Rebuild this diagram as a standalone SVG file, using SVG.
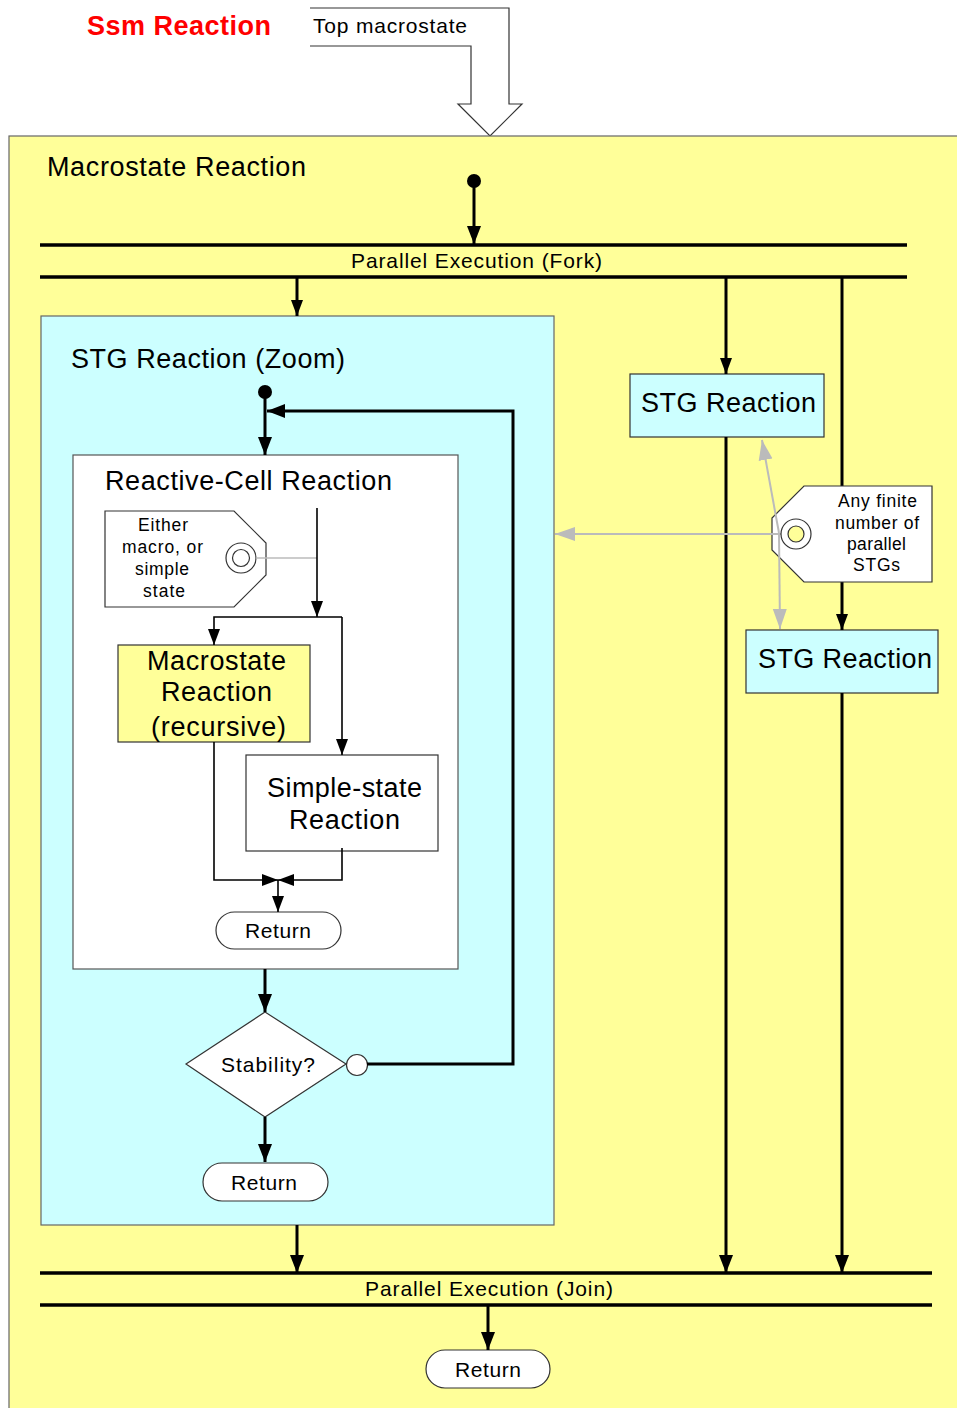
<svg xmlns="http://www.w3.org/2000/svg" width="957" height="1408" viewBox="0 0 957 1408">
<defs>
<style>
text{font-family:"Liberation Sans",Arial,sans-serif;fill:#000}
.t26{font-size:27px}
.t20{font-size:21px}
.t17{font-size:17.5px}
.c{text-anchor:middle}
.box{stroke:#333;stroke-width:1.2}
.wire{fill:none;stroke:#000;stroke-width:3}
.thin{fill:none;stroke:#000;stroke-width:1.6}
.gray{fill:none;stroke:#bbb;stroke-width:2}
.bar{stroke:#000;stroke-width:3.5}
</style>
<marker id="ah" markerUnits="userSpaceOnUse" markerWidth="20" markerHeight="20" refX="18" refY="10" orient="auto"><path d="M0,3 L18,10 L0,17 Z" fill="#000"/></marker>
<marker id="ahs" markerUnits="userSpaceOnUse" markerWidth="20" markerHeight="20" refX="16" refY="10" orient="auto"><path d="M0,4 L16,10 L0,16 Z" fill="#000"/></marker>
<marker id="ahg" markerUnits="userSpaceOnUse" markerWidth="22" markerHeight="20" refX="20" refY="10" orient="auto"><path d="M0,3 L20,10 L0,17 Z" fill="#bbb"/></marker>
</defs>
<rect width="957" height="1408" fill="#fff"/>
<text x="87" y="35" textLength="184" style="font-size:27px;font-weight:bold;fill:#f00">Ssm Reaction</text>
<g id="top-macrostate">
<path d="M310,8 H509 V104 H522 L490,136 L458,104 H471 V46 H310" fill="#fff" stroke="#333" stroke-width="1.2"/>
<text x="313" y="33" class="t20" textLength="154">Top macrostate</text>
</g>
<g id="macrostate-reaction">
<rect x="9" y="136" width="960" height="1290" fill="#ffff99" stroke="#666" stroke-width="1.2"/>
<text x="47" y="176" class="t26" textLength="259">Macrostate Reaction</text>
</g>
<g id="fork">
<line x1="40" y1="245" x2="907" y2="245" class="bar"/>
<line x1="40" y1="277" x2="907" y2="277" class="bar"/>
<text x="351" y="268" class="t20" textLength="251">Parallel Execution (Fork)</text>
</g>
<g id="join">
<line x1="40" y1="1273" x2="932" y2="1273" class="bar"/>
<line x1="40" y1="1305" x2="932" y2="1305" class="bar"/>
<text x="365" y="1296" class="t20" textLength="248">Parallel Execution (Join)</text>
</g>
<g id="stg-zoom">
<rect x="41" y="316" width="513" height="909" fill="#ccffff" stroke="#666" stroke-width="1.2"/>
<text x="71" y="368" class="t26" textLength="274">STG Reaction (Zoom)</text>
</g>
<g id="reactive-cell">
<rect x="73" y="455" width="385" height="514" fill="#fff" stroke="#555" stroke-width="1.2"/>
<text x="105" y="490" class="t26" textLength="287">Reactive-Cell Reaction</text>
</g>
<g id="tag-either">
<polygon points="105,511 234,511 266,543 266,575 234,607 105,607" fill="#fff" class="box"/>
<circle cx="241" cy="558" r="15" fill="#fff" stroke="#333" stroke-width="1.2"/>
<circle cx="241" cy="558" r="8.5" fill="#fff" stroke="#333" stroke-width="1.2"/>
<text x="138" y="531" class="t17" textLength="50">Either</text>
<text x="122" y="553" class="t17" textLength="81">macro, or</text>
<text x="135" y="575" class="t17" textLength="54">simple</text>
<text x="143" y="597" class="t17" textLength="42">state</text>
</g>
<g id="macro-recursive">
<rect x="118" y="645" width="192" height="97" fill="#ffff99" class="box"/>
<text x="147" y="670" class="t26" textLength="139">Macrostate</text>
<text x="161" y="701" class="t26" textLength="111">Reaction</text>
<text x="151" y="736" class="t26" textLength="135">(recursive)</text>
</g>
<g id="simple-state">
<rect x="246" y="755" width="192" height="96" fill="#fff" class="box"/>
<text x="267" y="797" class="t26" textLength="155">Simple-state</text>
<text x="289" y="829" class="t26" textLength="111">Reaction</text>
</g>
<g id="return-inner">
<rect x="216" y="912" width="125" height="37" rx="18.5" fill="#fff" class="box"/>
<text x="245" y="938" class="t20" textLength="66">Return</text>
</g>
<g id="stability">
<polygon points="265,1012 346,1064 265,1117 186,1064" fill="#fff" class="box"/>
<text x="221" y="1072" class="t20" textLength="94">Stability?</text>
<circle cx="357" cy="1065" r="10.5" fill="#fff" class="box"/>
</g>
<g id="return-zoom">
<rect x="203" y="1163" width="125" height="38" rx="19" fill="#fff" class="box"/>
<text x="231" y="1190" class="t20" textLength="66">Return</text>
</g>
<g id="stg1">
<rect x="630" y="374" width="194" height="63" fill="#ccffff" class="box"/>
<text x="641" y="412" class="t26" textLength="175">STG Reaction</text>
</g>
<g id="stg2">
<rect x="746" y="630" width="192" height="63" fill="#ccffff" class="box"/>
<text x="758" y="668" class="t26" textLength="174">STG Reaction</text>
</g>
<g id="return-outer">
<rect x="426" y="1350" width="124" height="38" rx="19" fill="#fff" class="box"/>
<text x="455" y="1377" class="t20" textLength="66">Return</text>
</g>
<g id="connectors">
<circle cx="474" cy="181" r="7" fill="#000"/>
<line x1="474" y1="181" x2="474" y2="244" class="wire" marker-end="url(#ah)"/>
<line x1="297" y1="277" x2="297" y2="316" class="wire" marker-end="url(#ahs)"/>
<line x1="726" y1="277" x2="726" y2="374" class="wire" marker-end="url(#ahs)"/>
<line x1="842" y1="277" x2="842" y2="486" class="wire"/>
<line x1="842" y1="582" x2="842" y2="630" class="wire" marker-end="url(#ahs)"/>
<line x1="726" y1="437" x2="726" y2="1273" class="wire" marker-end="url(#ah)"/>
<line x1="842" y1="693" x2="842" y2="1273" class="wire" marker-end="url(#ah)"/>
<line x1="297" y1="1225" x2="297" y2="1273" class="wire" marker-end="url(#ah)"/>
<line x1="488" y1="1305" x2="488" y2="1350" class="wire" marker-end="url(#ah)"/>
<circle cx="265" cy="392" r="7" fill="#000"/>
<line x1="265" y1="392" x2="265" y2="455" class="wire" marker-end="url(#ah)"/>
<polyline points="367,1064 513,1064 513,411 267,411" class="wire" marker-end="url(#ah)"/>
<line x1="265" y1="969" x2="265" y2="1012" class="wire" marker-end="url(#ah)"/>
<line x1="265" y1="1117" x2="265" y2="1162" class="wire" marker-end="url(#ah)"/>
<line x1="256" y1="558" x2="317" y2="558" class="gray" style="stroke-width:1.5"/>
<line x1="317" y1="508" x2="317" y2="617" class="thin" marker-end="url(#ahs)"/>
<polyline points="342,617 214,617 214,645" class="thin" marker-end="url(#ahs)"/>
<line x1="342" y1="617" x2="342" y2="755" class="thin" marker-end="url(#ahs)"/>
<polyline points="214,742 214,880 278,880" class="thin" marker-end="url(#ahs)"/>
<polyline points="342,848 342,880 278,880" class="thin" marker-end="url(#ahs)"/>
<line x1="278" y1="880" x2="278" y2="912" class="thin" marker-end="url(#ahs)"/>
</g>
<g id="tag-parallel">
<polygon points="804,486 932,486 932,582 804,582 772,550 772,518" fill="#fff" class="box"/>
<text x="838" y="507" class="t17" textLength="79">Any finite</text>
<text x="835" y="529" class="t17" textLength="84">number of</text>
<text x="847" y="550" class="t17" textLength="59">parallel</text>
<text x="853" y="571" class="t17" textLength="47">STGs</text>
<line x1="781" y1="534" x2="555" y2="534" class="gray" marker-end="url(#ahg)"/>
<line x1="779" y1="533" x2="762" y2="440" class="gray" marker-end="url(#ahg)"/>
<line x1="779" y1="533" x2="780" y2="629" class="gray" marker-end="url(#ahg)"/>
<circle cx="796" cy="534" r="15" fill="#fff" stroke="#333" stroke-width="1.2"/>
<circle cx="796" cy="534" r="8" fill="#ffff99" stroke="#333" stroke-width="1.2"/>
</g>
</svg>
